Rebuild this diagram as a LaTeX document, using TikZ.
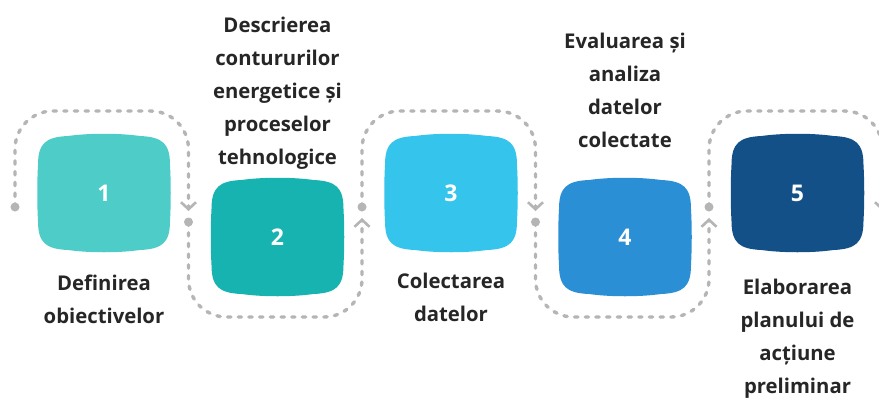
\documentclass[tikz,border=0pt]{standalone}
\usepackage{fontspec}
\setmainfont{Open Sans}
\newfontfamily\numfont{Open Sans}
\usetikzlibrary{arrows.meta}
\definecolor{c1}{HTML}{4ECDC8}
\definecolor{c2}{HTML}{17B3B0}
\definecolor{c3}{HTML}{34C4EC}
\definecolor{c4}{HTML}{2A8FD4}
\definecolor{c5}{HTML}{145088}
\definecolor{trailgray}{HTML}{B5B5B5}
\definecolor{txt}{HTML}{262626}
\begin{document}
\begin{tikzpicture}[x=1pt,y=-1pt,
  blob/.pic={\fill[#1] (-66,-28) .. controls (-66,-50) and (-58,-56) .. (-36,-57)
      .. controls (-15,-60) and (15,-60) .. (36,-57)
      .. controls (58,-56) and (66,-50) .. (66,-28)
      .. controls (67,-10) and (67,10) .. (66,28)
      .. controls (66,50) and (58,56) .. (36,57)
      .. controls (15,60) and (-15,60) .. (-36,57)
      .. controls (-58,56) and (-66,50) .. (-66,28)
      .. controls (-67,10) and (-67,-10) .. cycle;},
  lbl/.style={font=\bfseries\fontsize{20.3}{33}\selectfont, align=center, text=txt, inner sep=0pt, anchor=north},
  num/.style={font=\numfont\bfseries\fontsize{23}{23}\selectfont, text=white},
  trail/.style={draw=trailgray, line width=3.4pt, dash pattern=on 3.3pt off 7.4pt, line cap=round, rounded corners=38pt},
  tip/.style={-{Straight Barb[length=7pt,width=15pt,line width=2.6pt]}},
  dot/.style={fill=trailgray}
]
\useasboundingbox (0,0) rectangle (879,397);
\fill[white] (0,0) rectangle (879,397);

% boxes
\pic at (104,193) {blob=c1};
\pic at (277.5,237) {blob=c2};
\pic at (451,193) {blob=c3};
\pic at (625,237) {blob=c4};
\pic at (797.5,193) {blob=c5};
\node[num] (b1) at (104,193) {1};
\node[num] (b2) at (277.5,237) {2};
\node[num] (b3) at (451,193) {3};
\node[num] (b4) at (625,237) {4};
\node[num] (b5) at (797.5,193) {5};

% trail coordinates
\coordinate (s1) at (15,207);
\coordinate (e1) at (188.5,211);
\coordinate (s2) at (188.5,222);
\coordinate (e2) at (362,218);
\coordinate (s3) at (362,207);
\coordinate (e3) at (535.5,211);
\coordinate (s4) at (535.5,222);
\coordinate (e4) at (709,218);
\coordinate (s5) at (709,207);
\coordinate (e5) at (882.5,211);

\draw[trail,tip] (s1) -- ++(0,-96) -| (e1);
\draw[trail,tip] (s2) -- ++(0,95) -| (e2);
\draw[trail,tip] (s3) -- ++(0,-96) -| (e3);
\draw[trail,tip] (s4) -- ++(0,95) -| (e4);
\draw[trail,tip] (s5) -- ++(0,-96) -| (e5);
\foreach \p in {s1,s2,s3,s4,s5} \fill[dot] (\p) circle (4.5pt);

% labels
\node[lbl] (t1) at (104,275) {Definirea\\obiectivelor};
\node[lbl] (t2) at (277.5,16.5) {Descrierea\\contururilor\\energetice și\\proceselor\\tehnologice};
\node[lbl] (t3) at (451,273) {Colectarea\\datelor};
\node[lbl] (t4) at (625,32.5) {Evaluarea și\\analiza\\datelor\\colectate};
\node[lbl] (t5) at (797.5,278.5) {Elaborarea\\planului de\\acțiune\\preliminar};
\end{tikzpicture}
\end{document}
